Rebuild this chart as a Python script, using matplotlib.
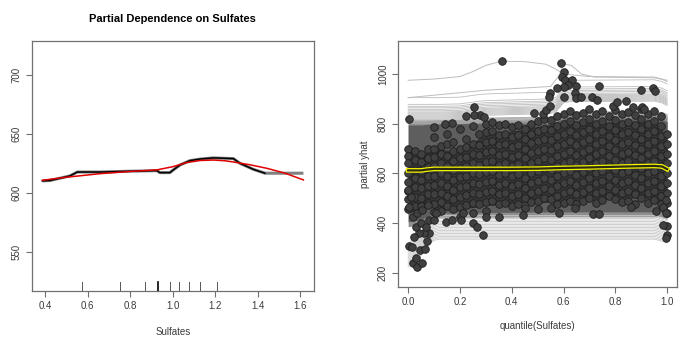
import matplotlib
matplotlib.use("Agg")
import matplotlib.pyplot as plt
import numpy as np

plt.rcParams['font.family'] = ['Liberation Sans', 'DejaVu Sans']

# ---------------- Left panel data ----------------
pd_x = [0.386, 0.422, 0.516, 0.551, 0.658, 0.783, 0.925, 0.94, 0.987, 1.003, 1.035,
        1.082, 1.129, 1.192, 1.286, 1.317, 1.38, 1.435, 1.616]
pd_y = [610.5, 610.8, 614.7, 618.0, 618.0, 618.6, 619.2, 617.5, 617.5, 619.8, 624.0,
        627.7, 629.0, 630.0, 629.4, 625.4, 620.3, 617.0, 617.0]
pd_black_end = 1.44
smooth_x = [0.386, 0.5, 0.658, 0.8, 0.925, 1.0, 1.066, 1.13, 1.192, 1.25, 1.286, 1.36, 1.443, 1.53, 1.616]
smooth_y = [611.0, 613.6, 616.6, 618.5, 619.8, 622.5, 626.0, 627.8, 628.2, 627.5, 626.5, 624.3, 621.2, 617.0, 611.3]
rug_x = [0.574, 0.753, 0.871, 0.932, 0.986, 1.030, 1.075, 1.130, 1.207]
rug_dark = 0.932
left_xticks = [0.4, 0.6, 0.8, 1.0, 1.2, 1.4, 1.6]
left_yticks = [550, 600, 650, 700]

# ---------------- Right panel data (ICE) ----------------
top_x = [0, 0.1, 0.2, 0.25, 0.3, 0.36, 0.45, 0.53, 0.57, 0.6, 0.65, 0.7, 0.95, 0.98, 1.0]
top_y = [975, 980, 990, 1010, 1035, 1052, 1050, 1040, 1020, 1000, 995, 990, 988, 980, 970]
spike_x = [0, 0.3, 0.55, 0.58, 0.6, 0.63, 0.67, 0.72, 0.95, 1.0]
spike_y = [905, 935, 950, 990, 1040, 1035, 1000, 988, 985, 975]

upper_grid = [0, 0.12, 0.2, 0.27, 0.3, 0.55, 0.57, 0.6, 0.63, 0.95, 0.98, 1.0]
upper_profile = [0, 0, 2, 12, 15, 22, 28, 65, 70, 72, 65, 55]
upper_levels = [905, 878, 870, 864, 858, 852, 847, 843, 839, 835, 831, 827, 823, 819]
mid_profile = [0, 0, 1, 6, 8, 12, 15, 30, 33, 34, 30, 22]
mid_levels = [815, 812, 809, 806, 803, 800]

lower_grid = [0, 0.02, 0.04, 0.06, 0.08, 0.1, 0.12, 0.5, 0.95, 0.97, 1.0]
lower_profile = [-110, -100, -80, -50, -20, -5, 0, 0, 0, -5, -15]
lower_levels = [335, 340, 346, 352, 358, 364, 370, 376, 382, 388, 394, 400, 406, 412, 418, 424, 430]

band_x = [0, 0.05, 0.1, 0.55, 0.6, 0.97, 1.0]
band_outer_lo = [385, 395, 420, 425, 425, 425, 415]
band_outer_hi = [812, 812, 815, 818, 840, 840, 830]
band_inner_lo = [405, 415, 440, 445, 445, 445, 435]
band_inner_hi = [795, 795, 800, 802, 820, 820, 808]

env_x = [0.0, 0.02, 0.05, 0.08, 0.1, 0.2, 0.3, 0.4, 0.5, 0.6, 0.7, 0.8, 0.9, 0.97, 1.0]
env_lo = [460, 440, 450, 470, 460, 455, 470, 480, 480, 490, 490, 500, 500, 490, 460]
env_hi = [690, 685, 675, 690, 700, 690, 760, 770, 790, 805, 805, 805, 810, 795, 740]

cloud_cols = [0.0, 0.025, 0.05, 0.075, 0.1, 0.125, 0.15, 0.175, 0.2, 0.225, 0.25, 0.275,
              0.3, 0.325, 0.35, 0.375, 0.4, 0.425, 0.45, 0.475, 0.5, 0.525, 0.55, 0.575,
              0.6, 0.625, 0.65, 0.675, 0.7, 0.725, 0.75, 0.775, 0.8, 0.825, 0.85, 0.875,
              0.9, 0.925, 0.95, 0.975, 1.0]
cloud_ys = [
    [700, 672, 640, 600, 565, 530, 495, 455],
    [690, 655, 615, 580, 545, 505, 470],
    [680, 645, 610, 575, 540, 500, 468],
    [700, 660, 625, 590, 550, 515, 480],
    [745, 700, 665, 630, 590, 555, 515, 475, 445],
    [710, 680, 640, 600, 560, 520, 485, 450],
    [760, 720, 670, 630, 590, 550, 510, 470],
    [725, 690, 650, 612, 575, 535, 495, 455],
    [780, 700, 660, 620, 585, 545, 505, 465, 425],
    [740, 705, 665, 628, 590, 550, 512, 472],
    [790, 720, 680, 640, 600, 560, 520, 480, 440],
    [760, 715, 675, 635, 598, 558, 518, 478],
    [800, 765, 725, 685, 645, 605, 565, 525, 485, 450],
    [805, 770, 730, 690, 650, 610, 570, 530, 490],
    [795, 755, 715, 675, 635, 595, 555, 515, 475],
    [800, 760, 720, 680, 640, 600, 560, 520, 480],
    [785, 748, 708, 668, 628, 590, 550, 510, 470],
    [795, 755, 715, 676, 636, 596, 556, 516, 478],
    [780, 740, 700, 660, 620, 580, 540, 500, 462],
    [800, 760, 722, 682, 642, 602, 562, 522, 484],
    [810, 770, 730, 690, 650, 610, 570, 530, 490, 455],
    [820, 780, 740, 700, 660, 620, 580, 540, 500],
    [815, 775, 735, 695, 655, 615, 575, 535, 495, 460],
    [830, 790, 750, 710, 670, 630, 590, 550, 510, 475],
    [840, 800, 760, 720, 680, 640, 600, 560, 520, 480],
    [850, 810, 770, 730, 690, 650, 610, 570, 530, 490],
    [835, 795, 755, 715, 675, 635, 595, 555, 515, 478],
    [845, 805, 765, 725, 685, 645, 605, 565, 525, 488],
    [860, 820, 780, 740, 700, 660, 620, 580, 540, 500],
    [840, 800, 760, 720, 680, 640, 600, 560, 520, 482],
    [850, 810, 770, 730, 690, 650, 610, 570, 530, 492],
    [830, 790, 750, 710, 670, 630, 590, 550, 510],
    [855, 815, 775, 735, 695, 655, 615, 575, 535, 495],
    [840, 800, 760, 720, 680, 640, 600, 560, 520, 485],
    [848, 808, 768, 728, 688, 648, 608, 568, 528, 490],
    [835, 795, 755, 715, 675, 635, 595, 555, 515, 478],
    [860, 820, 780, 740, 700, 660, 620, 580, 540, 500],
    [840, 800, 760, 720, 680, 640, 600, 560, 520, 482],
    [850, 810, 770, 730, 690, 650, 610, 570, 530, 492],
    [830, 790, 750, 710, 670, 630, 590, 550, 510, 475],
    [760, 720, 680, 640, 600, 560, 520, 480, 440],
]

outlier_x = [0.362, 0.59, 0.6, 0.594, 0.607, 0.633, 0.648, 0.616, 0.6, 0.573, 0.548, 0.543,
             0.603, 0.646, 0.648, 0.667, 0.738, 0.709, 0.728, 0.79, 0.805, 0.842, 0.867, 0.9,
             0.945, 0.955, 0.902, 0.91, 0.005, 0.255, 0.278, 0.223, 0.253, 0.291, 0.1, 0.171,
             0.142, 0.485, 0.519, 0.532, 0.548,
             0.29, 0.646, 0.584, 0.442, 0.349, 0.713, 0.738, 0.861, 0.957, 0.983, 1.0, 1.0,
             0.996, 0.983, 0.996, 0.996,
             0.004, 0.013, 0.017, 0.032, 0.036, 0.055, 0.046, 0.066, 0.072, 0.081, 0.062,
             0.043, 0.023, 0.03, 0.049, 0.068, 0.081, 0.017, 0.036, 0.055, 0.075, 0.004,
             0.01, 0.0,
             0.1, 0.146, 0.171, 0.204, 0.249, 0.264, 0.3, 0.107, 0.21]
outlier_y = [1054, 1043, 1009, 987, 976, 976, 953, 956, 946, 942, 925, 906,
             909, 925, 902, 909, 952, 909, 895, 871, 889, 893, 868, 936,
             942, 933, 868, 858, 820, 866, 835, 831, 835, 828, 788, 804,
             798, 842, 839, 855, 871,
             353, 460, 439, 432, 423, 435, 435, 466, 450, 466, 388, 352,
             338, 392, 439, 493,
             307, 305, 238, 258, 222, 238, 291, 294, 329, 359, 359,
             359, 345, 385, 399, 385, 412, 426, 439, 453, 473, 466,
             506, 533,
             412, 405, 412, 412, 399, 385, 426, 439, 439]

pdp_q = [0, 0.05, 0.07, 0.1, 0.2, 0.3, 0.4, 0.5, 0.6, 0.7, 0.85, 0.95, 0.98, 1.0]
pdp_yhat = [612, 612, 615, 618, 618, 618, 618, 619, 622, 624, 628, 630, 628, 617]
right_xticks = [0.0, 0.2, 0.4, 0.6, 0.8, 1.0]
right_yticks = [200, 400, 600, 800, 1000]

# ---------------- Figure ----------------
fig = plt.figure(figsize=(6.92, 3.53), dpi=100)
axL = fig.add_axes([0.0458, 0.1756, 0.408, 0.7075])
axR = fig.add_axes([0.5756, 0.1878, 0.4027, 0.695])

frame_c = '#707070'
text_c = '#3a3a3a'


def style(ax):
    for s in ax.spines.values():
        s.set_color(frame_c)
        s.set_linewidth(0.9)
    ax.tick_params(direction='out', length=4, width=0.8, colors=frame_c,
                   labelcolor=text_c, labelsize=7)
    for lab in ax.get_yticklabels():
        lab.set_rotation(90)
        lab.set_va('center')


# Left
axL.plot(pd_x, pd_y, color='#808080', lw=2.2, solid_capstyle='butt', zorder=2)
bx = [x for x in pd_x if x <= pd_black_end]
by = [y for x, y in zip(pd_x, pd_y) if x <= pd_black_end]
axL.plot(bx, by, color='black', lw=1.1, zorder=3)
axL.plot(smooth_x, smooth_y, color='#e00000', lw=1.1, zorder=4)
tr = axL.get_xaxis_transform()
for rx in rug_x:
    if rx == rug_dark:
        axL.plot([rx, rx], [0, 0.035], transform=tr, color='black', lw=1.2, zorder=5)
    else:
        axL.plot([rx, rx], [0, 0.035], transform=tr, color='#555555', lw=0.7, zorder=5)
axL.set_xlim(0.336, 1.666)
axL.set_ylim(517, 729)
axL.set_xticks(left_xticks)
axL.set_xticklabels(['0.4', '0.6', '0.8', '1.0', '1.2', '1.4', '1.6'])
axL.set_yticks(left_yticks)
style(axL)
axL.set_xlabel('Sulfates', fontsize=7, color=text_c, labelpad=11)
axL.set_title('Partial Dependence on Sulfates', fontsize=8, fontweight='bold',
              color='black', pad=14)

# Right
axR.fill_between(band_x, band_outer_lo, band_outer_hi, color='#8e8e8e', lw=0, zorder=1)
axR.fill_between(band_x, band_inner_lo, band_inner_hi, color='#5e5e5e', lw=0, zorder=1)
for lv in upper_levels:
    axR.plot(upper_grid, [lv + p for p in upper_profile], color='#bdbdbd', lw=0.6, zorder=2)
for lv in mid_levels:
    axR.plot(upper_grid, [lv + p for p in mid_profile], color='#a8a8a8', lw=0.6, zorder=2)
for lv in lower_levels:
    axR.plot(lower_grid, [lv + p for p in lower_profile], color='#c8c8c8', lw=0.6, zorder=2)
axR.plot(top_x, top_y, color='#bdbdbd', lw=0.7, zorder=2)
axR.plot(spike_x, spike_y, color='#bdbdbd', lw=0.7, zorder=2)
axR.fill_between(env_x, env_lo, env_hi, color='#363636', lw=0, zorder=3)
cx = [c for c, ys in zip(cloud_cols, cloud_ys) for _ in ys]
cy = [y for ys in cloud_ys for y in ys]
axR.scatter(cx, cy, s=30, facecolor='#404040', edgecolor='#1e1e1e', linewidths=0.6, zorder=4)
axR.scatter(outlier_x, outlier_y, s=30, facecolor='#404040', edgecolor='#1e1e1e',
            linewidths=0.6, zorder=4)
axR.plot(pdp_q, pdp_yhat, color='#f5f500', lw=3.4, zorder=5, solid_joinstyle='round')
axR.plot(pdp_q, pdp_yhat, color='#2c2c14', lw=1.6, zorder=6, solid_joinstyle='round')
axR.set_xlim(-0.038, 1.038)
axR.set_ylim(143.6, 1131.7)
axR.set_xticks(right_xticks)
axR.set_xticklabels(['0.0', '0.2', '0.4', '0.6', '0.8', '1.0'])
axR.set_yticks(right_yticks)
style(axR)
axR.set_xlabel('quantile(Sulfates)', fontsize=7, color=text_c, labelpad=10)
axR.set_ylabel('partial yhat', fontsize=7, color=text_c, labelpad=6)

fig.savefig('out.png', dpi=100)
